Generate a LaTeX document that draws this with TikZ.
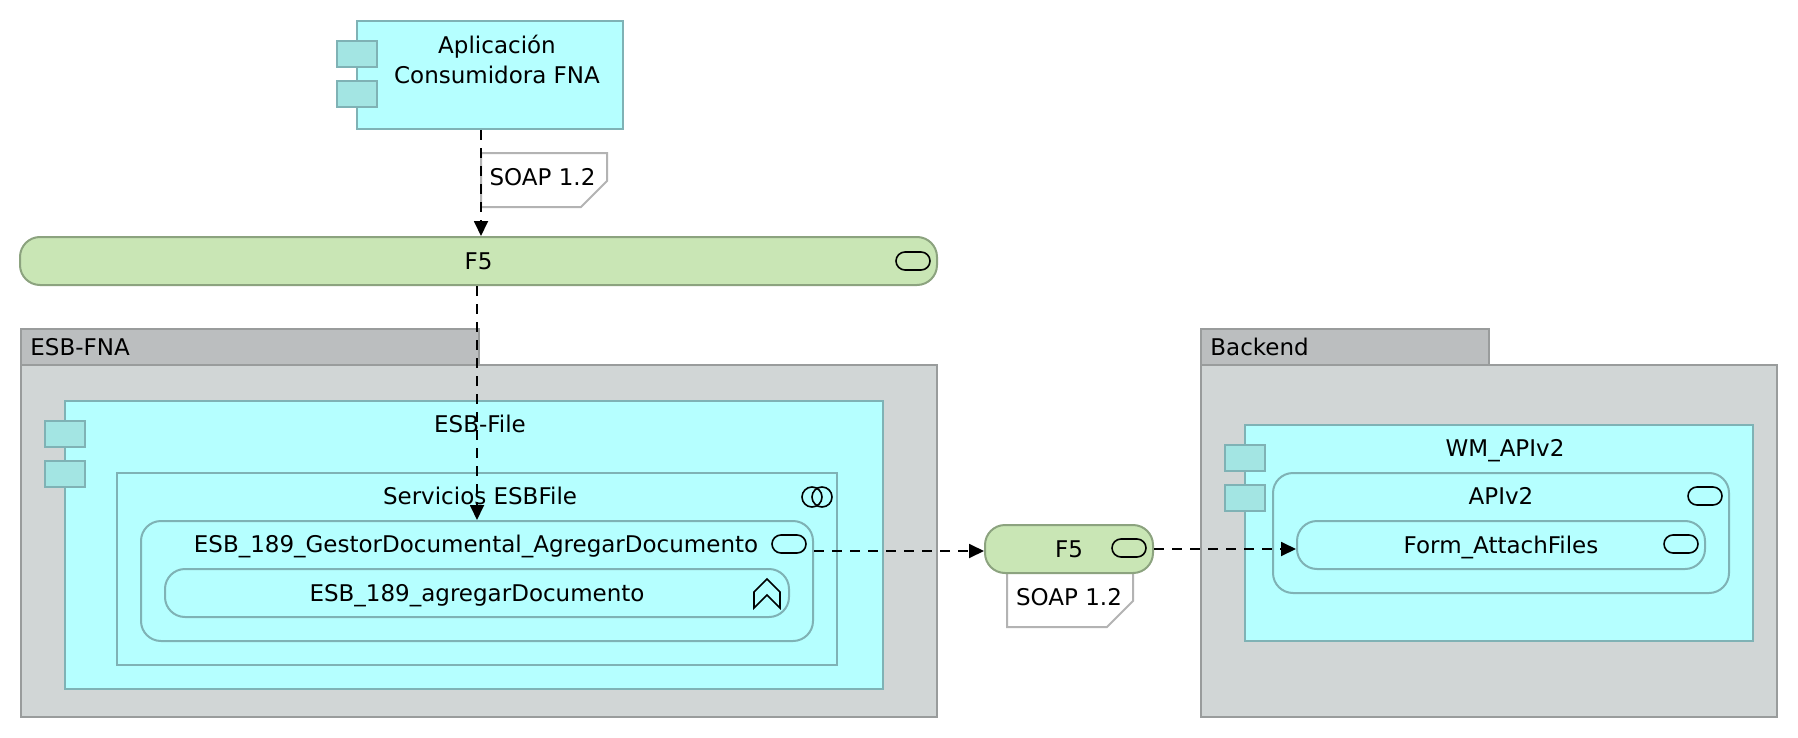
\documentclass[tikz,border=0pt]{standalone}
\usepackage{fontspec}
\setmainfont{DejaVu Sans}
\usetikzlibrary{arrows.meta,positioning,calc}
\definecolor{compfill}{HTML}{B5FFFF}
\definecolor{compline}{HTML}{7FB2B5}
\definecolor{tabfill}{HTML}{A3E5E3}
\definecolor{pkgfill}{HTML}{D1D6D6}
\definecolor{pkgtab}{HTML}{BBBEBF}
\definecolor{pkgline}{HTML}{999C9C}
\definecolor{techfill}{HTML}{C9E6B5}
\definecolor{techline}{HTML}{8CA37F}
\definecolor{noteline}{HTML}{B3B3B3}

\begin{document}
\begin{tikzpicture}[
  x=0.5pt, y=-0.5pt,
  font=\fontsize{11.5pt}{15pt}\selectfont,
  capline/.style={text height=8.4pt, text depth=0pt},
  pkg/.style={rectangle, draw=pkgline, fill=pkgfill, line width=1pt, inner sep=0pt},
  pkghead/.style={pkg, fill=pkgtab},
  comp/.style={rectangle, draw=compline, fill=compfill, line width=1pt, inner sep=0pt},
  comptab/.style={rectangle, draw=compline, fill=tabfill, line width=1pt, inner sep=0pt,
                  minimum width=20pt, minimum height=13pt},
  func/.style={comp, capline, rounded corners=10pt},
  tech/.style={rectangle, capline, rounded corners=10pt, draw=techline, fill=techfill, line width=1pt, inner sep=0pt},
  pill/.style={rectangle, rounded corners=4.5pt, draw=black, line width=0.8pt,
               minimum width=17pt, minimum height=9pt, inner sep=0pt},
  ring/.style={circle, draw=black, line width=0.8pt, minimum size=10pt, inner sep=0pt},
  lbl/.style={anchor=center, capline},
  notebox/.style={draw=noteline, fill=white, line width=1pt},
  dep/.style={-{Triangle[length=7.5pt,width=7pt]}, line width=0.9pt, dash pattern=on 5pt off 4pt}
]
\useasboundingbox (0,0) rectangle (1798,738);

% ============= Consumer =============
\node[comp, minimum width=133pt, minimum height=54pt,
      label={[anchor=center, align=center, yshift=-19.7pt, xshift=3.5pt]above:{Aplicación\\Consumidora FNA}}] (app) at (490,75) {};
\node[comptab] (appTabA) at (357,54) {};
\node[comptab, below=6pt of appTabA] (appTabB) {};

% Note on the consumer link
\draw[notebox] (481,153) -- (607,153) -- (607,181) -- (581,207) -- (481,207) -- cycle;
\node[capline] (soapA) at (542.5,177) {SOAP 1.2};

% ============= F5 bar =============
\node[tech, minimum width=458.5pt, minimum height=24pt] (f5bar) at (478.5,261) {F5};
\node[pill] (f5barIcon) at (913,261) {};

% ============= ESB-FNA =============
\node[pkghead, minimum width=229pt, minimum height=18pt] (esbHead) at (250,347) {};
\node[right=0pt of esbHead.west, capline, inner sep=5pt] (esbName) {ESB-FNA};
\node[pkg, minimum width=458pt, minimum height=176pt] (esb) at (479,541) {};

\node[comp, minimum width=409pt, minimum height=144pt,
      label={[lbl, yshift=-12pt, xshift=3pt]above:{ESB-File}}] (esbFile) at (474,545) {};
\node[comptab] (fileTabA) at (65,434) {};
\node[comptab, below=6pt of fileTabA] (fileTabB) {};

\node[comp, minimum width=360pt, minimum height=96pt,
      label={[lbl, yshift=-12pt, xshift=1.5pt]above:{Servicios ESBFile}}] (servicios) at (477,569) {};
\node[ring] (ringA) at (812,497) {};
\node[ring] (ringB) at (822,497) {};

\node[func, minimum width=336pt, minimum height=60pt,
      label={[lbl, yshift=-12pt, xshift=-0.5pt]above:{ESB\_189\_GestorDocumental\_AgregarDocumento}}] (gestor) at (477,581) {};
\node[pill] (gestorIcon) at (789,544) {};

\node[func, minimum width=312pt, minimum height=24pt] (agregar) at (477,593) {ESB\_189\_agregarDocumento};
\draw[line width=0.8pt] (754,592) -- (767,579) -- (780,592) -- (780,608) -- (767,595) -- (754,608) -- cycle;

% ============= Backend =============
\node[pkghead, minimum width=144pt, minimum height=18pt] (backHead) at (1345,347) {};
\node[right=0pt of backHead.west, capline, inner sep=5pt] (backName) {Backend};
\node[pkg, minimum width=288pt, minimum height=176pt] (backend) at (1489,541) {};

\node[comp, minimum width=254pt, minimum height=108pt,
      label={[lbl, yshift=-12pt, xshift=3pt]above:{WM\_APIv2}}] (wm) at (1499,533) {};
\node[comptab] (wmTabA) at (1245,458) {};
\node[comptab, below=6pt of wmTabA] (wmTabB) {};

\node[func, minimum width=228pt, minimum height=60pt,
      label={[lbl, yshift=-12pt]above:{APIv2}}] (apiv) at (1501,533) {};
\node[pill] (apivIcon) at (1705,496) {};

\node[func, minimum width=204pt, minimum height=24pt] (form) at (1501,545) {Form\_AttachFiles};
\node[pill] (formIcon) at (1681,544) {};

% ============= Middle F5 =============
\draw[notebox] (1007,560) -- (1133,560) -- (1133,601) -- (1107,627) -- (1007,627) -- cycle;
\node[capline] (soapB) at (1069,597) {SOAP 1.2};
\node[tech, minimum width=84pt, minimum height=24pt] (f5mid) at (1069,549) {F5};
\node[pill] (f5midIcon) at (1129,548) {};

% ============= Flows =============
\draw[dep] ([xshift=-4.5pt]app.south) -- ([xshift=1.25pt]f5bar.north);
\draw[dep] ([xshift=-0.75pt]f5bar.south) -- (gestor.north);
\draw[dep] ([yshift=15pt]gestor.east) -- ([yshift=-1pt]f5mid.west);
\draw[dep] (f5mid.east) -- ([yshift=-2pt]form.west);

\end{tikzpicture}
\end{document}
